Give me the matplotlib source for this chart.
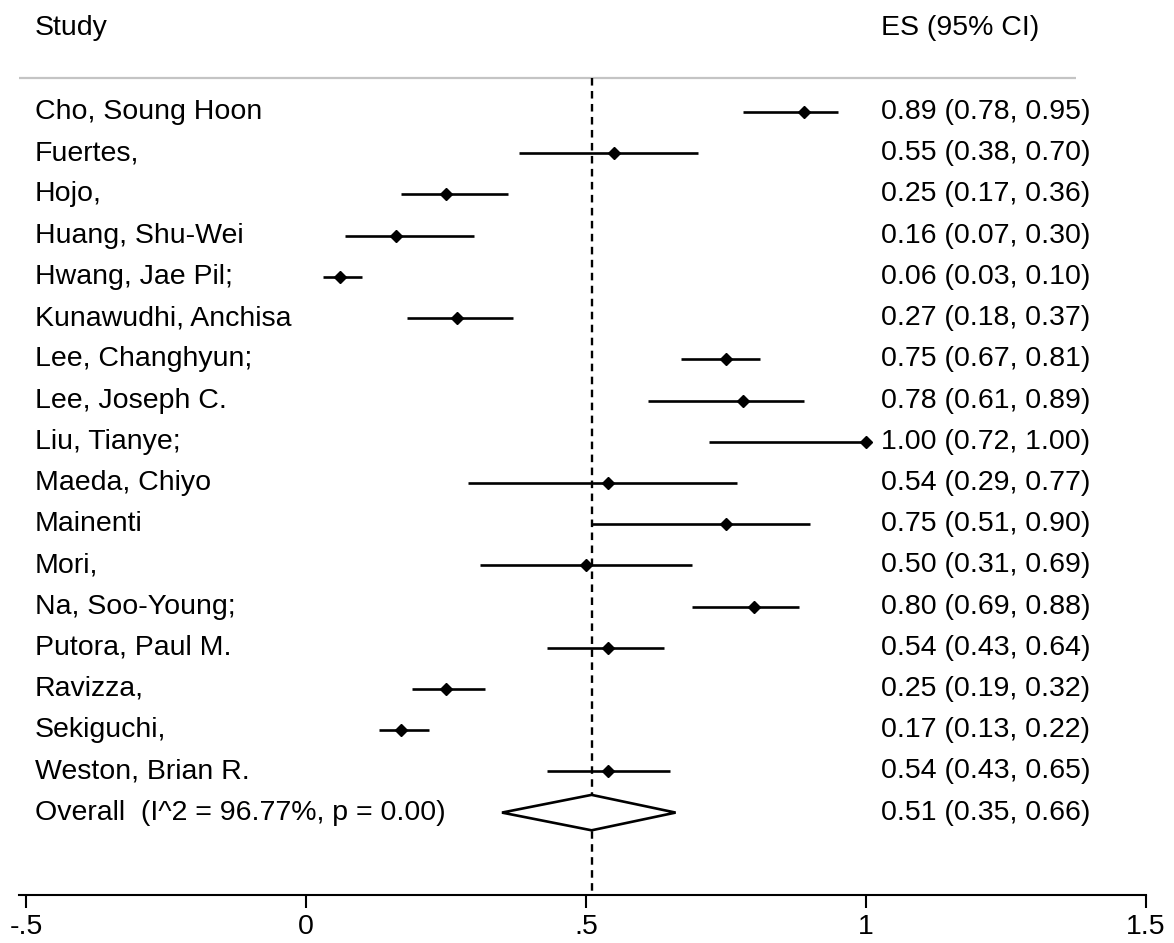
import matplotlib.pyplot as plt
from matplotlib.patches import Polygon

plt.rcParams['font.family'] = ['Liberation Sans', 'DejaVu Sans']

studies = ["Cho, Soung Hoon", "Fuertes,", "Hojo,", "Huang, Shu-Wei", "Hwang, Jae Pil;",
           "Kunawudhi, Anchisa", "Lee, Changhyun;", "Lee, Joseph C.", "Liu, Tianye;",
           "Maeda, Chiyo", "Mainenti", "Mori,", "Na, Soo-Young;", "Putora, Paul M.",
           "Ravizza,", "Sekiguchi,", "Weston, Brian R."]
es = [0.89, 0.55, 0.25, 0.16, 0.06, 0.27, 0.75, 0.78, 1.00, 0.54, 0.75, 0.50, 0.80, 0.54, 0.25, 0.17, 0.54]
lo = [0.78, 0.38, 0.17, 0.07, 0.03, 0.18, 0.67, 0.61, 0.72, 0.29, 0.51, 0.31, 0.69, 0.43, 0.19, 0.13, 0.43]
hi = [0.95, 0.70, 0.36, 0.30, 0.10, 0.37, 0.81, 0.89, 1.00, 0.77, 0.90, 0.69, 0.88, 0.64, 0.32, 0.22, 0.65]

overall_label = "Overall  (I^2 = 96.77%, p = 0.00)"
overall_es, overall_lo, overall_hi = 0.51, 0.35, 0.66

xticks = [-0.5, 0, 0.5, 1, 1.5]
xticklabels = ["-.5", "0", ".5", "1", "1.5"]

FS = 20.5
name_x = -0.484
es_x = 1.026

fig = plt.figure(figsize=(11.74, 9.43), dpi=100)
ax = fig.add_axes([19 / 1174, 48 / 943, 1127 / 1174, 895 / 943])
ax.set_xlim(-0.5125, 1.5)
ax.set_ylim(19.0, -2.72)

# header row and separator
ax.text(name_x, -2.04, "Study", fontsize=FS, va='center', ha='left')
ax.text(es_x, -2.04, "ES (95% CI)", fontsize=FS, va='center', ha='left')
ax.plot([-0.5125, 1.375], [-0.825, -0.825], color='#c4c4c4', lw=1.6, solid_capstyle='butt')

# dashed line at the overall estimate
ax.plot([overall_es, overall_es], [-0.825, 19.0], color='black', lw=1.7,
        linestyle=(0, (3.2, 2.3)))

# one row per study
for i, name in enumerate(studies):
    ax.plot([lo[i], hi[i]], [i, i], color='black', lw=1.9, solid_capstyle='butt')
    ax.plot(es[i], i, marker='D', color='black', markersize=6)
    ax.text(name_x, i, name, fontsize=FS, va='center', ha='left')
    ax.text(es_x, i, "{:.2f} ({:.2f}, {:.2f})".format(es[i], lo[i], hi[i]),
            fontsize=FS, va='center', ha='left')

# pooled diamond
yo = len(studies)
h = 0.43
diamond = Polygon([(overall_lo, yo), (overall_es, yo - h), (overall_hi, yo), (overall_es, yo + h)],
                  closed=True, facecolor='white', edgecolor='black', lw=1.9, zorder=3)
ax.add_patch(diamond)
ax.text(name_x, yo, overall_label, fontsize=FS, va='center', ha='left')
ax.text(es_x, yo, "{:.2f} ({:.2f}, {:.2f})".format(overall_es, overall_lo, overall_hi),
        fontsize=FS, va='center', ha='left')

# x axis only
for s in ['top', 'left', 'right']:
    ax.spines[s].set_visible(False)
ax.spines['bottom'].set_linewidth(1.5)
ax.set_yticks([])
ax.set_xticks(xticks)
ax.set_xticklabels(xticklabels)
ax.tick_params(axis='x', length=9.5, width=1.5, labelsize=FS, pad=4)

fig.savefig("out.png", dpi=100)
